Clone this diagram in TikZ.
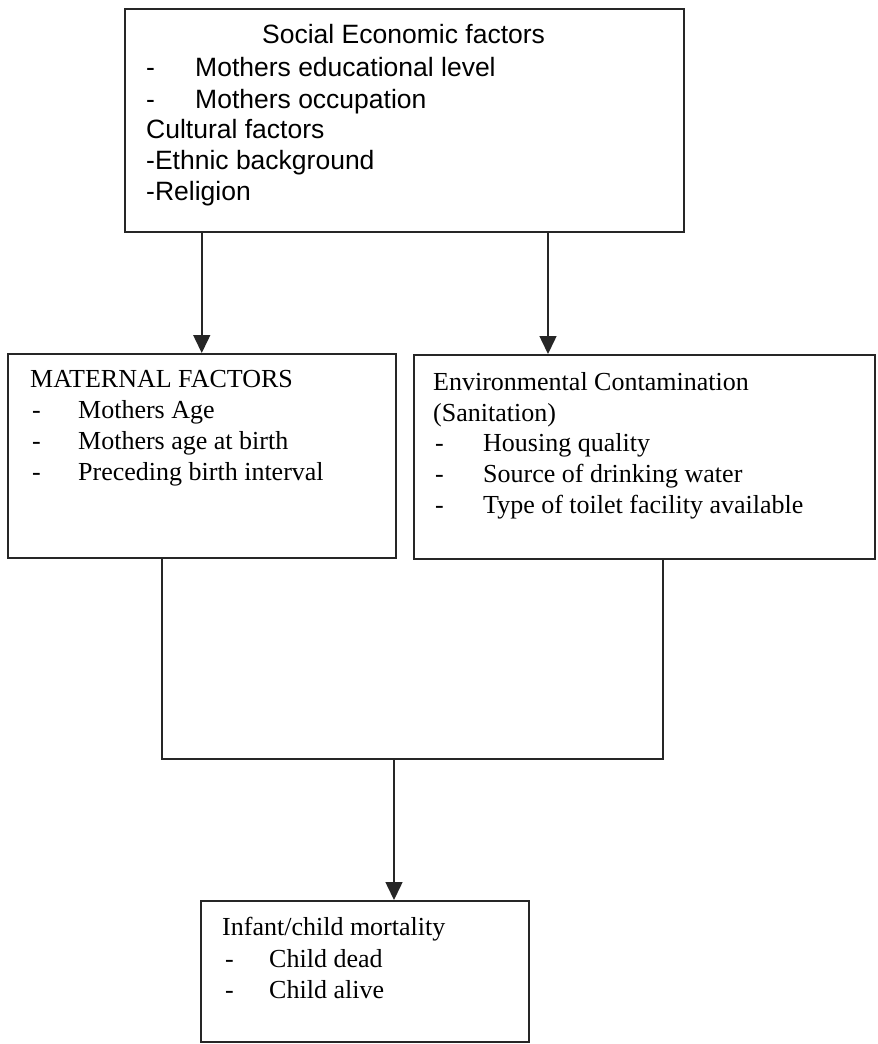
\documentclass[tikz,border=0pt]{standalone}
\usepackage{fontspec}
\setmainfont{Liberation Serif}
\newfontfamily\arialf{Liberation Sans}
\usetikzlibrary{arrows.meta}
\begin{document}
\begin{tikzpicture}[x=1pt,y=-1pt,
  line/.style={draw=black!85, line width=1.5pt},
  boxstyle/.style={line, rectangle, inner sep=0pt, anchor=north west},
  arrowline/.style={line, -{Triangle[width=17pt,length=18pt]}},
  txt/.style={anchor=base west, inner sep=0pt, font=\fontsize{26}{31}\selectfont},
  stxt/.style={anchor=base west, inner sep=0pt, font=\arialf\fontsize{26.5}{31}\selectfont}
]
\useasboundingbox (0,0) rectangle (878,1044);
\fill[white] (0,0) rectangle (878,1044);

% boxes
\node[boxstyle, minimum width=559pt, minimum height=223pt] (top) at (124,8) {};
\node[boxstyle, minimum width=388pt, minimum height=204pt] (mat) at (7,353) {};
\node[boxstyle, minimum width=461pt, minimum height=204pt] (env) at (413,354) {};
\node[boxstyle, minimum width=328pt, minimum height=141pt] (out) at (200,900) {};

% top box text
\node[stxt] (t1) at (262,43) {Social Economic factors};
\node[stxt] (t2d) at (146,76) {-};
\node[stxt] (t2) at (195,76) {Mothers educational level};
\node[stxt] (t3d) at (146,108) {-};
\node[stxt] (t3) at (195,108) {Mothers occupation};
\node[stxt] (t4) at (146,138) {Cultural factors};
\node[stxt] (t5) at (146,169) {-Ethnic background};
\node[stxt] (t6) at (146,200) {-Religion};

% maternal box text
\node[txt] (m1) at (30,387) {MATERNAL FACTORS};
\node[txt] (m2d) at (32,418) {-};
\node[txt] (m2) at (78,418) {Mothers Age};
\node[txt] (m3d) at (32,449) {-};
\node[txt] (m3) at (78,449) {Mothers age at birth};
\node[txt] (m4d) at (32,480) {-};
\node[txt] (m4) at (78,480) {Preceding birth interval};

% environment box text
\node[txt] (e1) at (433,390) {Environmental Contamination};
\node[txt] (e2) at (433,421) {(Sanitation)};
\node[txt] (e3d) at (435,451) {-};
\node[txt] (e3) at (483,451) {Housing quality};
\node[txt] (e4d) at (435,482) {-};
\node[txt] (e4) at (483,482) {Source of drinking water};
\node[txt] (e5d) at (435,513) {-};
\node[txt] (e5) at (483,513) {Type of toilet facility available};

% outcome box text
\node[txt] (o1) at (222,935) {Infant/child mortality};
\node[txt] (o2d) at (225,967) {-};
\node[txt] (o2) at (269,967) {Child dead};
\node[txt] (o3d) at (225,998) {-};
\node[txt] (o3) at (269,998) {Child alive};

% connector helper coordinates
\coordinate (ra) at (548,0);
\coordinate (ml) at (162,0);
\coordinate (mr) at (663,0);
\coordinate (mb) at (0,759);
\coordinate (dx) at (394,0);

% arrows from top box
\draw[arrowline] (top.south -| mat.north) -- (mat.north);
\draw[arrowline] (top.south -| ra) -- (env.north -| ra);

% merging bracket
\draw[line] (mat.south -| ml) -- (mb -| ml) -- (mb -| mr) -- (env.south -| mr);

% arrow to outcome
\draw[arrowline] (mb -| dx) -- (out.north -| dx);
\end{tikzpicture}
\end{document}
